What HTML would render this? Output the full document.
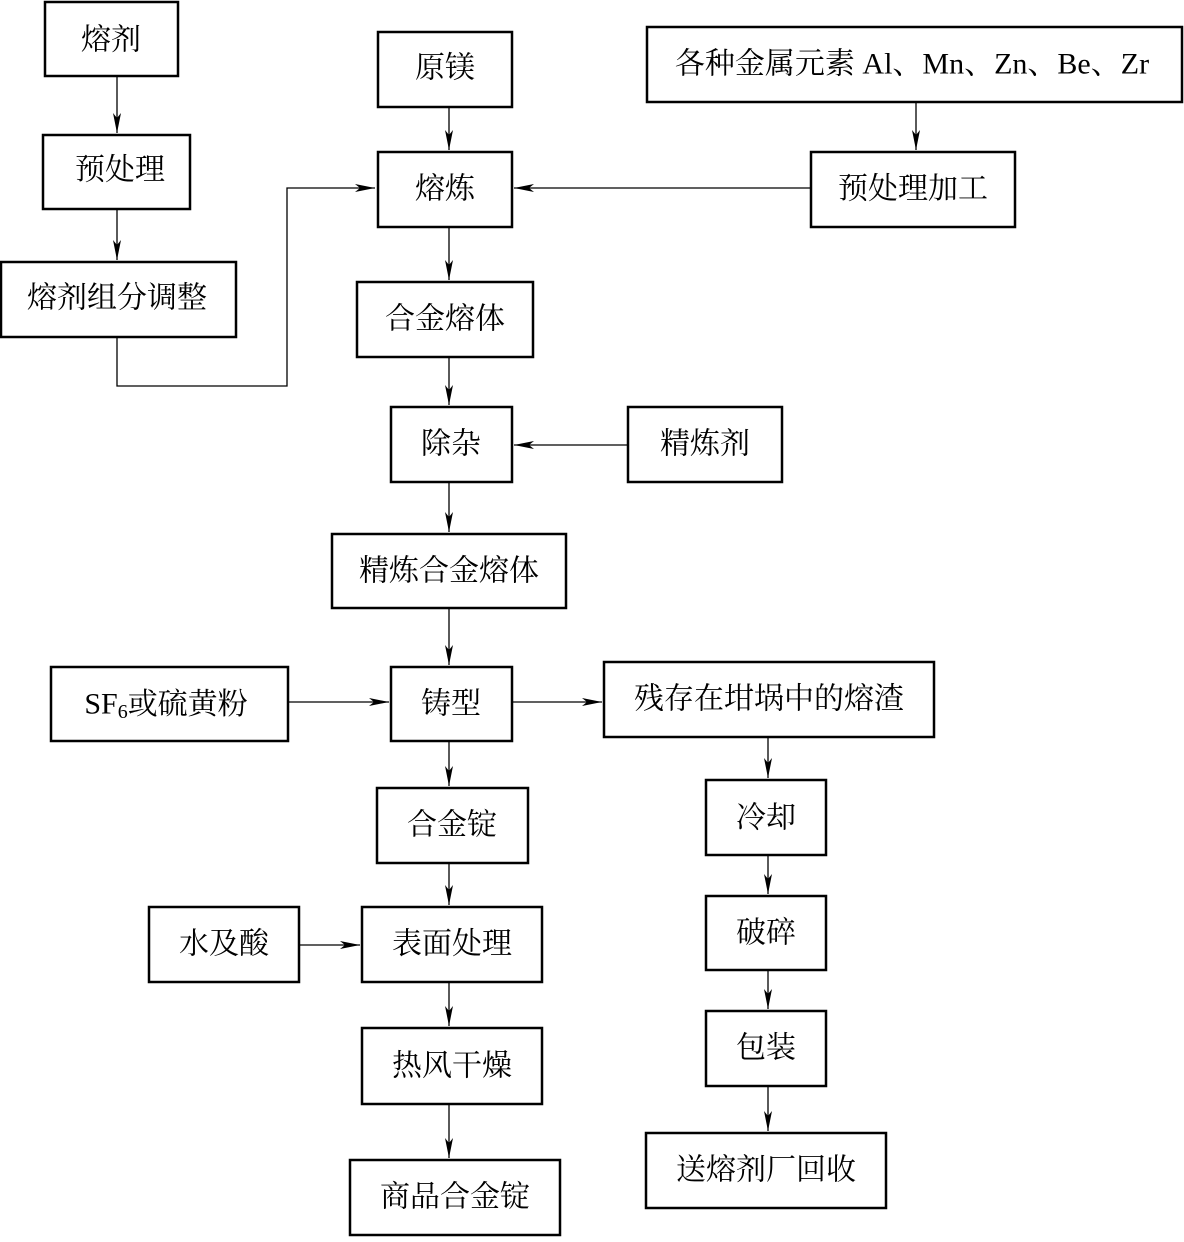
<!DOCTYPE html>
<html><head><meta charset="utf-8"><style>
html,body{margin:0;padding:0;background:#fff}
svg text{font-family:"Liberation Serif","Noto Serif CJK SC","Noto Sans CJK SC",serif;font-size:30px;fill:#000}
</style></head><body>
<svg width="1184" height="1237" viewBox="0 0 1184 1237" xmlns="http://www.w3.org/2000/svg">
<defs>
<marker id="a" viewBox="0 0 20 10" refX="20" refY="5" markerWidth="20" markerHeight="10" markerUnits="userSpaceOnUse" orient="auto">
<path d="M0,1 L20,5 L0,9 L5,5 Z" fill="#000"/>
</marker>
</defs>
<g fill="none" stroke="#000" stroke-width="2.5">
<rect x="45" y="2" width="133" height="74"/>
<rect x="43" y="135" width="147" height="74"/>
<rect x="1" y="262" width="235" height="75"/>
<rect x="378" y="32" width="134" height="75"/>
<rect x="378" y="152" width="134" height="75"/>
<rect x="647" y="27" width="535" height="75"/>
<rect x="811" y="152" width="204" height="75"/>
<rect x="357" y="282" width="176" height="75"/>
<rect x="391" y="407" width="121" height="75"/>
<rect x="628" y="407" width="154" height="75"/>
<rect x="332" y="534" width="234" height="74"/>
<rect x="51" y="667" width="237" height="74"/>
<rect x="391" y="667" width="121" height="74"/>
<rect x="604" y="662" width="330" height="75"/>
<rect x="377" y="788" width="151" height="75"/>
<rect x="706" y="780" width="120" height="75"/>
<rect x="149" y="907" width="150" height="75"/>
<rect x="362" y="907" width="180" height="75"/>
<rect x="706" y="896" width="120" height="74"/>
<rect x="362" y="1028" width="180" height="76"/>
<rect x="706" y="1011" width="120" height="75"/>
<rect x="350" y="1160" width="210" height="75"/>
<rect x="646" y="1133" width="240" height="75"/>
</g>
<g fill="none" stroke="#000" stroke-width="1.3" marker-end="url(#a)">
<line x1="117" y1="76" x2="117" y2="133"/>
<line x1="117" y1="209" x2="117" y2="260"/>
<polyline points="117,337 117,386 287,386 287,188 375,188"/>
<line x1="449" y1="107" x2="449" y2="150"/>
<line x1="916" y1="102" x2="916" y2="150"/>
<line x1="811" y1="188" x2="514" y2="188"/>
<line x1="449" y1="227" x2="449" y2="280"/>
<line x1="449" y1="357" x2="449" y2="405"/>
<line x1="628" y1="445" x2="514" y2="445"/>
<line x1="449" y1="482" x2="449" y2="532"/>
<line x1="449" y1="608" x2="449" y2="665"/>
<line x1="288" y1="702" x2="389" y2="702"/>
<line x1="512" y1="702" x2="602" y2="702"/>
<line x1="449" y1="741" x2="449" y2="786"/>
<line x1="768" y1="737" x2="768" y2="778"/>
<line x1="449" y1="863" x2="449" y2="905"/>
<line x1="299" y1="945" x2="360" y2="945"/>
<line x1="768" y1="855" x2="768" y2="894"/>
<line x1="449" y1="982" x2="449" y2="1026"/>
<line x1="768" y1="970" x2="768" y2="1009"/>
<line x1="449" y1="1104" x2="449" y2="1158"/>
<line x1="768" y1="1086" x2="768" y2="1131"/>
</g>
<g text-anchor="middle" dominant-baseline="central">
<text x="111" y="40">熔剂</text>
<text x="120" y="170">预处理</text>
<text x="117" y="298">熔剂组分调整</text>
<text x="445" y="68">原镁</text>
<text x="445" y="189">熔炼</text>
<text x="912" y="64">各种金属元素 Al、Mn、Zn、Be、Zr</text>
<text x="913" y="189">预处理加工</text>
<text x="445" y="319">合金熔体</text>
<text x="451" y="444">除杂</text>
<text x="705" y="444">精炼剂</text>
<text x="449" y="571">精炼合金熔体</text>
<text x="166" y="704">SF<tspan font-size="20" dy="8">6</tspan><tspan dy="-8">或硫黄粉</tspan></text>
<text x="451" y="704">铸型</text>
<text x="769" y="699">残存在坩埚中的熔渣</text>
<text x="452" y="825">合金锭</text>
<text x="766" y="818">冷却</text>
<text x="224" y="944">水及酸</text>
<text x="452" y="944">表面处理</text>
<text x="766" y="933">破碎</text>
<text x="452" y="1066">热风干燥</text>
<text x="766" y="1048">包装</text>
<text x="455" y="1197">商品合金锭</text>
<text x="766" y="1170">送熔剂厂回收</text>
</g>
</svg>
</body></html>
